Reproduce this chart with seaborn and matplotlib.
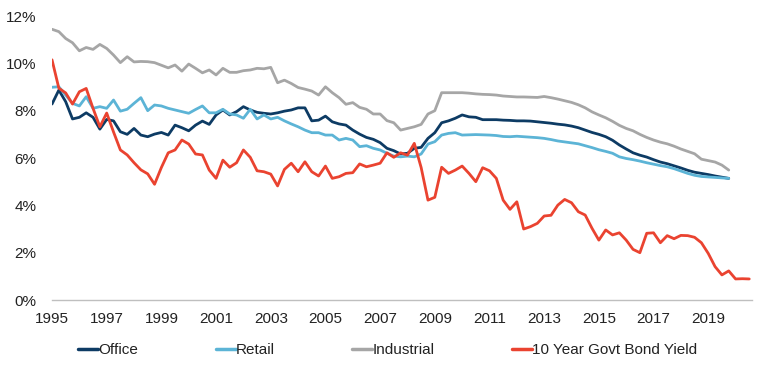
import numpy as np
import pandas as pd
import matplotlib
matplotlib.use("Agg")
import matplotlib.pyplot as plt
import seaborn as sns
from matplotlib.ticker import FuncFormatter

# quarterly yields (%), starting 1995 Q1
office = [8.28, 8.87, 8.38, 7.65, 7.72, 7.91, 7.72, 7.22, 7.63, 7.57,
          7.11, 7.00, 7.25, 6.97, 6.90, 7.01, 7.08, 6.97, 7.39, 7.28,
          7.15, 7.39, 7.56, 7.42, 7.82, 8.03, 7.82, 7.96, 8.17, 8.03,
          7.93, 7.89, 7.86, 7.91, 7.98, 8.03, 8.12, 8.12, 7.57, 7.60,
          7.77, 7.53, 7.44, 7.39, 7.18, 7.01, 6.87, 6.79, 6.65, 6.41,
          6.31, 6.17, 6.20, 6.41, 6.45, 6.83, 7.07, 7.49, 7.57, 7.68,
          7.82, 7.74, 7.72, 7.62, 7.62, 7.62, 7.60, 7.59, 7.57, 7.57,
          7.56, 7.53, 7.50, 7.47, 7.43, 7.40, 7.35, 7.28, 7.18, 7.08,
          7.00, 6.90, 6.75, 6.55, 6.38, 6.22, 6.12, 6.04, 5.93, 5.83,
          5.76, 5.67, 5.58, 5.48, 5.40, 5.35, 5.30, 5.24, 5.19, 5.14]

retail = [8.99, 9.01, 8.66, 8.31, 8.20, 8.59, 8.10, 8.17, 8.10, 8.45,
          7.98, 8.06, 8.31, 8.55, 8.00, 8.24, 8.20, 8.10, 8.03, 7.96,
          7.89, 8.05, 8.20, 7.91, 7.91, 8.06, 7.86, 7.82, 7.68, 8.06,
          7.65, 7.82, 7.65, 7.72, 7.57, 7.44, 7.32, 7.18, 7.07, 7.07,
          6.97, 6.97, 6.76, 6.83, 6.76, 6.48, 6.52, 6.41, 6.34, 6.20,
          6.08, 6.05, 6.08, 6.05, 6.17, 6.59, 6.69, 6.97, 7.04, 7.07,
          6.97, 6.98, 6.99, 6.98, 6.97, 6.95, 6.91, 6.90, 6.92, 6.90,
          6.88, 6.86, 6.83, 6.78, 6.72, 6.68, 6.64, 6.60, 6.52, 6.44,
          6.35, 6.28, 6.20, 6.05, 5.98, 5.93, 5.87, 5.80, 5.74, 5.68,
          5.63, 5.55, 5.45, 5.35, 5.27, 5.22, 5.20, 5.18, 5.16, 5.14]

industrial = [11.44, 11.34, 11.05, 10.87, 10.53, 10.67, 10.59, 10.80, 10.63, 10.35,
              10.03, 10.28, 10.06, 10.08, 10.07, 10.03, 9.92, 9.81, 9.93, 9.67,
              9.97, 9.79, 9.60, 9.72, 9.51, 9.79, 9.62, 9.62, 9.69, 9.72,
              9.79, 9.77, 9.83, 9.18, 9.29, 9.15, 8.98, 8.91, 8.83, 8.66,
              9.01, 8.76, 8.55, 8.27, 8.34, 8.14, 8.06, 7.86, 7.86, 7.58,
              7.49, 7.18, 7.25, 7.32, 7.42, 7.86, 8.00, 8.76, 8.76, 8.76,
              8.76, 8.74, 8.71, 8.69, 8.68, 8.66, 8.62, 8.60, 8.58, 8.58,
              8.57, 8.56, 8.60, 8.55, 8.49, 8.42, 8.35, 8.25, 8.12, 7.95,
              7.82, 7.70, 7.55, 7.38, 7.25, 7.15, 7.00, 6.87, 6.76, 6.67,
              6.60, 6.50, 6.38, 6.28, 6.18, 5.95, 5.89, 5.83, 5.70, 5.49]

bond = [10.15, 8.95, 8.75, 8.28, 8.80, 8.94, 8.10, 7.32, 7.90, 7.10,
        6.34, 6.13, 5.80, 5.50, 5.33, 4.89, 5.60, 6.22, 6.34, 6.76,
        6.59, 6.17, 6.13, 5.49, 5.14, 5.91, 5.61, 5.80, 6.34, 6.03,
        5.46, 5.42, 5.32, 4.82, 5.52, 5.78, 5.42, 5.84, 5.42, 5.24,
        5.66, 5.14, 5.21, 5.35, 5.38, 5.75, 5.63, 5.70, 5.78, 6.22,
        6.03, 6.22, 6.12, 6.62, 5.60, 4.22, 4.34, 5.61, 5.35, 5.49,
        5.66, 5.35, 5.00, 5.59, 5.46, 5.14, 4.22, 3.83, 4.15, 3.00,
        3.10, 3.24, 3.55, 3.58, 4.01, 4.25, 4.11, 3.73, 3.59, 3.03,
        2.53, 2.96, 2.75, 2.84, 2.53, 2.14, 2.00, 2.82, 2.84, 2.42,
        2.72, 2.59, 2.73, 2.72, 2.65, 2.42, 1.97, 1.41, 1.06, 1.23,
        0.89, 0.90, 0.89]

series_names = ["Office", "Retail", "Industrial", "10 Year Govt Bond Yield"]
colors = ["#0d3b64", "#5cb4d6", "#a6a6a6", "#ea4330"]
year_ticks = list(range(1995, 2020, 2))
start_year = 1995

frames = []
for name, vals in zip(series_names, [office, retail, industrial, bond]):
    t = start_year + np.arange(len(vals)) / 4
    frames.append(pd.DataFrame({"year": t, "yield": vals, "series": name}))
df = pd.concat(frames, ignore_index=True)

sns.set_theme(style="white")
plt.rcParams["font.family"] = ["Liberation Sans", "DejaVu Sans"]

fig = plt.figure(figsize=(7.66, 3.76), dpi=100)
ax = fig.add_axes([0.0679, 0.2021, 0.9138, 0.7553])

sns.lineplot(data=df, x="year", y="yield", hue="series",
             hue_order=series_names, palette=dict(zip(series_names, colors)),
             linewidth=2.0, ax=ax, legend=False)

ax.set_xlim(1995, 2020.6)
ax.set_ylim(0, 12)
ax.set_yticks(range(0, 13, 2))
ax.yaxis.set_major_formatter(FuncFormatter(lambda v, p: f"{int(v)}%"))
ax.set_xticks(year_ticks)
ax.set_xticklabels([str(y) for y in year_ticks])
ax.set_xlabel("")
ax.set_ylabel("")

for s in ["top", "right", "left"]:
    ax.spines[s].set_visible(False)
ax.spines["bottom"].set_color("#bfbfbf")
ax.spines["bottom"].set_linewidth(1.0)
ax.tick_params(axis="x", direction="out", length=3.5, width=0.8,
               color="#bfbfbf", pad=5, labelsize=11, labelcolor="#222222")
ax.tick_params(axis="y", length=0, pad=11, labelsize=11, labelcolor="#222222")

handles = [plt.Line2D([], [], color=c, lw=2.5) for c in colors]
fig.legend(handles, series_names, loc="center", bbox_to_anchor=(0.506, 0.069),
           ncol=4, frameon=False, fontsize=11, handlelength=1.3,
           handletextpad=0.0, columnspacing=5.1, labelcolor="#222222")

fig.savefig("out.png", dpi=100)
